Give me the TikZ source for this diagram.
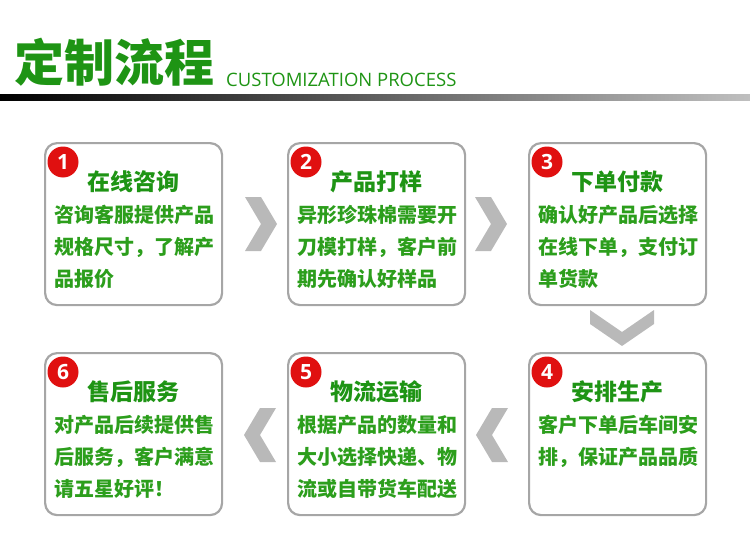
\documentclass[tikz,border=0pt]{standalone}
\usepackage{fontspec}
\newfontfamily\cjk{Noto Sans CJK SC}
\setmainfont{Open Sans}
\definecolor{tg}{HTML}{1E9414}
\definecolor{bg}{HTML}{2C9E1C}
\definecolor{cred}{HTML}{E01010}
\tikzset{
 card/.style={draw=gray!70,line width=2.2pt,rounded corners=12pt,fill=white,minimum width=177pt,minimum height=162pt},
 ttl/.style={text=tg,font=\cjk\bfseries\fontsize{23}{23}\selectfont,anchor=west,inner sep=0pt},
 body/.style={text=bg,font=\cjk\bfseries\fontsize{20}{32}\selectfont,align=left,anchor=north west,inner sep=0pt},
 num/.style={circle,fill=cred,text=white,minimum size=31pt,inner sep=0pt,font=\bfseries\fontsize{21}{21}\selectfont},
 chev/.style={fill=gray!55,draw=none}
}
\begin{document}
\begin{tikzpicture}[x=1pt,y=-1pt]
\useasboundingbox (0,0) rectangle (750,551);
\node[anchor=west,text=tg,inner sep=0pt,font=\cjk\bfseries\fontsize{50}{50}\selectfont] (h) at (14,62) {定制流程};
\node[anchor=base west,text=tg,inner sep=0pt,font=\fontsize{18.5}{19}\selectfont] (hs) at (226,86) {CUSTOMIZATION PROCESS};
\shade[left color=black,right color=gray!50] (0,95) rectangle (750,100);
% cards
\foreach \n/\x/\y/\t/\b in {
 1/44/142/在线咨询/{咨询客服提供产品\\规格尺寸，了解产\\品报价},
 2/287/142/产品打样/{异形珍珠棉需要开\\刀模打样，客户前\\期先确认好样品},
 3/528/142/下单付款/{确认好产品后选择\\在线下单，支付订\\单货款},
 4/528/352/安排生产/{客户下单后车间安\\排，保证产品品质},
 5/287/352/物流运输/{根据产品的数量和\\大小选择快递、物\\流或自带货车配送},
 6/44/352/售后服务/{对产品后续提供售\\后服务，客户满意\\请五星好评！}}{
 \node[card,anchor=north west] (c\n) at (\x,\y) {};
 \node[num] (n\n) at (\x+19,\y+20) {\n};
 \node[ttl] (t\n) at (\x+43,\y+40) {\t};
 \node[body] (b\n) at (\x+10,\y+63) {\b};
}
% chevrons
\coordinate (r1) at (245,197); \coordinate (r2) at (475,197);
\foreach \c in {r1,r2}{
 \fill[chev] (\c) -- ++(16,0) -- ++(16,27) -- ++(-16,27) -- ++(-16,0) -- ++(16,-27) -- cycle;}
\coordinate (l1) at (276,408); \coordinate (l2) at (508,408);
\foreach \c in {l1,l2}{
 \fill[chev] (\c) -- ++(-16,0) -- ++(-16,27) -- ++(16,27) -- ++(16,0) -- ++(-16,-27) -- cycle;}
\coordinate (d1) at (590,310);
\fill[chev] (d1) -- ++(0,14) -- ++(32,22) -- ++(32,-22) -- ++(0,-14) -- ++(-32,22) -- cycle;
\end{tikzpicture}
\end{document}
